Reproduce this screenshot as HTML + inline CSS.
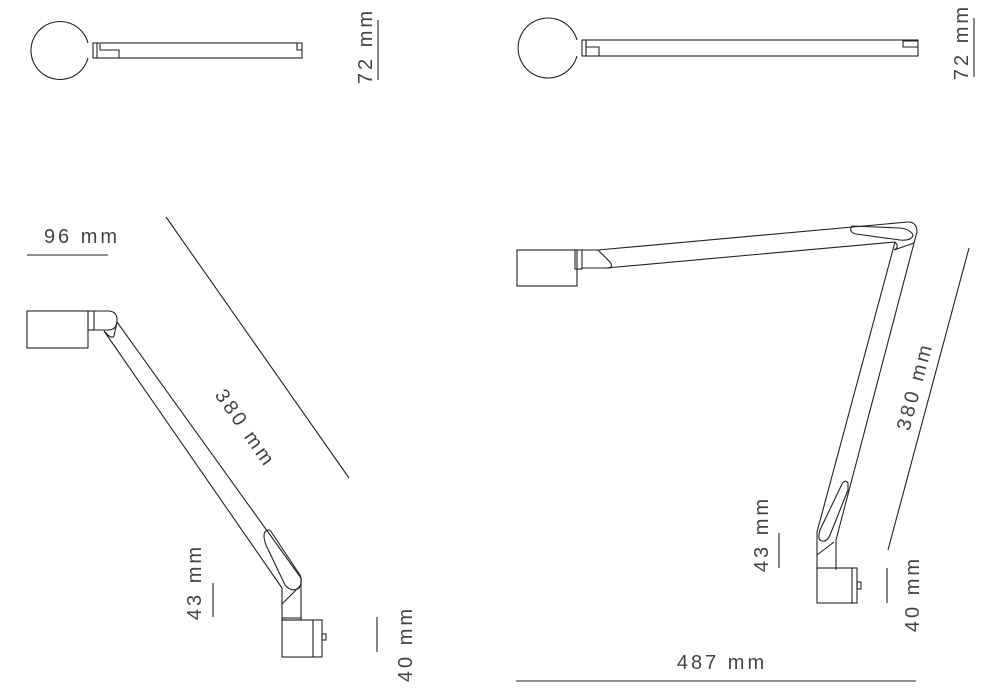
<!DOCTYPE html>
<html><head><meta charset="utf-8"><style>
html,body{margin:0;padding:0;background:#fff;}
svg{display:block;}
text{font-family:"Liberation Sans",sans-serif;font-size:20px;fill:#444;letter-spacing:3px;}
</style></head><body>
<svg width="1000" height="700" viewBox="0 0 1000 700" xmlns="http://www.w3.org/2000/svg">
<g fill="none" stroke="#222" stroke-width="1.1">
<path d="M88,43 A29,29 0 1 0 88,58"/>
<rect x="93" y="43" width="209" height="15"/>
<line x1="97" y1="43" x2="97" y2="58"/>
<path d="M100,44 V50 H119 V58"/>
<path d="M297,43 V50 H302"/>
<line x1="378" y1="20" x2="378" y2="80"/>
<path d="M577,40 A30,30 0 1 0 577,56"/>
<rect x="582" y="40" width="336" height="16"/>
<line x1="586" y1="40" x2="586" y2="56"/>
<path d="M586,42 V47 H599 V56"/>
<path d="M918,41 H903 V47 H918"/>
<line x1="974" y1="18" x2="974" y2="77"/>

<line x1="27" y1="255" x2="108" y2="255"/>
<line x1="166" y1="217" x2="349" y2="478"/>
<rect x="27" y="311" width="61" height="37"/>
<rect x="88" y="311" width="6" height="19"/>
<path d="M94,311 H108 Q117,311 117,320 Q117,330 108,330 H94"/>
<line x1="117" y1="322" x2="301" y2="578"/>
<line x1="104" y1="331" x2="282" y2="588"/>
<path d="M104,331 Q112,340 114,336 L117,322"/>
<path d="M266,531 Q262,534 266,545 L285,585 Q292,593 299,588 Q303,582 300,575 L272,533 Q269,528 266,531 Z"/>
<line x1="282" y1="588" x2="282" y2="618"/>
<line x1="301" y1="578" x2="301" y2="618"/>
<line x1="282" y1="604" x2="301" y2="585"/>
<rect x="282" y="618" width="19" height="2"/>
<rect x="282" y="620" width="40" height="37"/>
<line x1="313" y1="620" x2="313" y2="657"/>
<rect x="322" y="634" width="4" height="6"/>
<line x1="213" y1="583" x2="213" y2="617"/>
<line x1="377" y1="617" x2="377" y2="652"/>

<rect x="517" y="250" width="60" height="36"/>
<rect x="575" y="250" width="7" height="19"/>
<path d="M582,250 H598 L610,262 Q613,266 610,268 H582"/>
<line x1="598" y1="250" x2="908" y2="222"/>
<line x1="606" y1="268" x2="895" y2="242"/>
<path d="M908,222 Q917,222 917,232 L914,243"/>
<path d="M852,226 Q848,232 856,234 L900,240 Q912,241 913,235 Q910,229 900,228 Z"/>
<line x1="914" y1="243" x2="836" y2="540"/>
<line x1="895" y1="242" x2="817" y2="532"/>
<path d="M895,242 Q900,247 894,250 L914,243"/>
<path d="M848,483 Q845,479 842,484 L820,530 Q817,540 822,541 Q827,542 830,535 L848,490 Z"/>
<line x1="817" y1="532" x2="817" y2="570"/>
<line x1="836" y1="540" x2="836" y2="570"/>
<line x1="817" y1="555" x2="834" y2="542"/>
<rect x="817" y="568" width="40" height="35"/>
<line x1="852" y1="568" x2="852" y2="603"/>
<rect x="857" y="582" width="4" height="7"/>
<line x1="969" y1="248" x2="888" y2="550"/>
<line x1="779" y1="533" x2="779" y2="568"/>
<line x1="887" y1="568" x2="887" y2="603"/>
<line x1="516" y1="681" x2="916" y2="681"/>
</g>

<text transform="translate(372,46) rotate(-90)" text-anchor="middle">72 mm</text>
<text transform="translate(968,42) rotate(-90)" text-anchor="middle">72 mm</text>
<text x="82" y="243" text-anchor="middle">96 mm</text>
<text transform="translate(240,432) rotate(55)" text-anchor="middle">380 mm</text>
<text transform="translate(201,582) rotate(-90)" text-anchor="middle">43 mm</text>
<text transform="translate(412,644) rotate(-90)" text-anchor="middle">40 mm</text>
<text transform="translate(921,388) rotate(-75)" text-anchor="middle">380 mm</text>
<text transform="translate(768,534) rotate(-90)" text-anchor="middle">43 mm</text>
<text transform="translate(919,594) rotate(-90)" text-anchor="middle">40 mm</text>
<text x="722" y="669" text-anchor="middle">487 mm</text>
</svg>
</body></html>
